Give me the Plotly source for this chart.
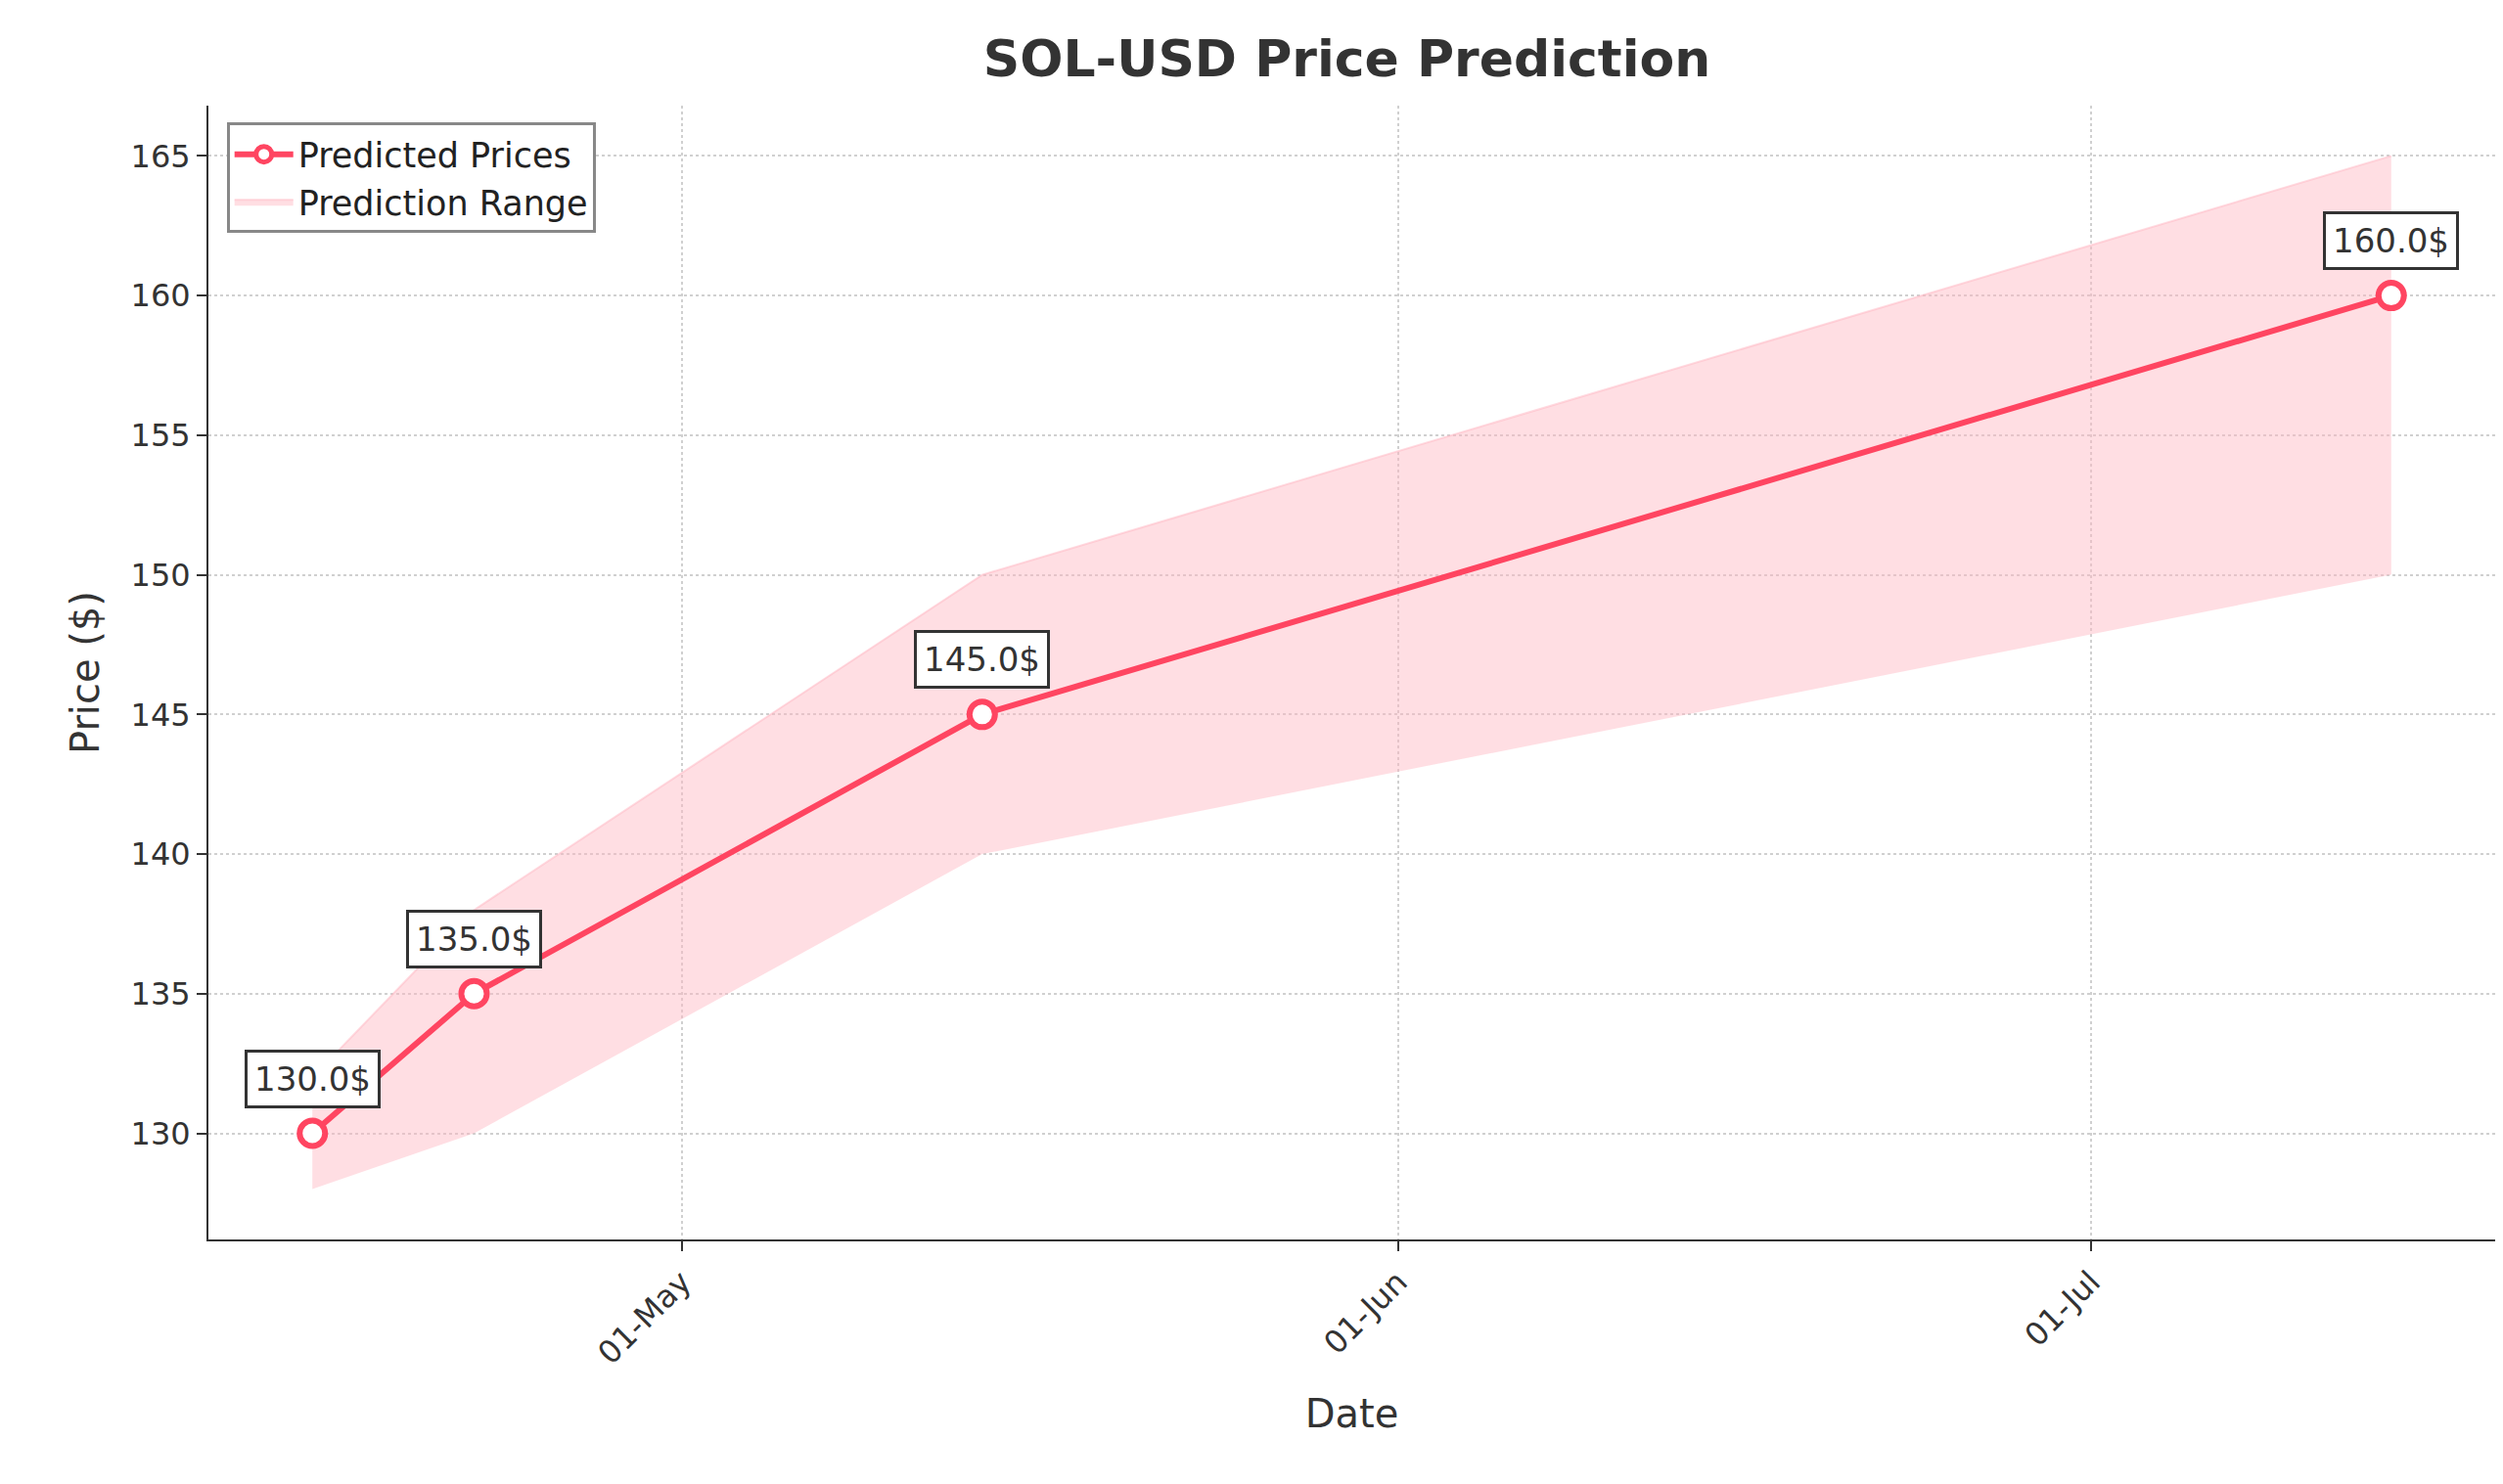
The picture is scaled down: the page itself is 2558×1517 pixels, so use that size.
import plotly.graph_objects as go

dates = ["2024-04-15", "2024-04-22", "2024-05-14", "2024-07-14"]
predicted = [130.0, 135.0, 145.0, 160.0]
lower = [128.0, 130.0, 140.0, 150.0]
upper = [132.0, 138.0, 150.0, 165.0]

red = "#ff4561"
fig = go.Figure()
fig.add_trace(go.Scatter(x=dates, y=lower, mode="lines", line=dict(width=0),
                         showlegend=False, hoverinfo="skip"))
fig.add_trace(go.Scatter(x=dates, y=upper, mode="lines", fill="tonexty",
                         fillcolor="rgba(255,182,193,0.45)",
                         line=dict(width=2, color="rgba(255,182,193,0.5)"),
                         name="Prediction Range"))
fig.add_trace(go.Scatter(x=dates, y=predicted, mode="lines+markers", name="Predicted Prices",
                         line=dict(color=red, width=6),
                         marker=dict(size=26, color="white", line=dict(color=red, width=6))))

for d, p in zip(dates, predicted):
    fig.add_annotation(x=d, y=p, text=f"{p:.1f}$", showarrow=False, yshift=56,
                       font=dict(size=34, color="#333"), bgcolor="white",
                       bordercolor="#333", borderwidth=3, borderpad=7)

axis_common = dict(showline=True, linecolor="#333", linewidth=2, ticks="outside",
                   ticklen=10, tickwidth=2, tickcolor="#333",
                   tickfont=dict(size=32, color="#333"),
                   showgrid=True, gridcolor="#d0d0d0", griddash="dot", gridwidth=2,
                   zeroline=False)
fig.update_layout(
    width=2558, height=1517, plot_bgcolor="white", paper_bgcolor="white",
    font=dict(family="DejaVu Sans", color="#333"),
    title=dict(text="<b>SOL-USD Price Prediction</b>", x=0.535, xanchor="center",
               y=0.978, font=dict(size=52, color="#333")),
    margin=dict(l=205, r=16, t=100, b=258),
    xaxis=dict(axis_common, range=["2024-04-10 12:00", "2024-07-18 12:00"],
               tickvals=["2024-05-01", "2024-06-01", "2024-07-01"],
               ticktext=["01-May", "01-Jun", "01-Jul"], tickangle=-45,
               title=dict(text="Date", font=dict(size=40, color="#333"), standoff=30)),
    yaxis=dict(axis_common, range=[126.2, 166.8], tickvals=[130, 135, 140, 145, 150, 155, 160, 165],
               title=dict(text="Price ($)", font=dict(size=40, color="#333"), standoff=20)),
    legend=dict(x=0.008, y=0.985, xanchor="left", yanchor="top", bgcolor="white",
                bordercolor="#888", borderwidth=3, font=dict(size=35, color="#222"),
                traceorder="reversed", itemwidth=60),
)
fig.write_html("out.html")
